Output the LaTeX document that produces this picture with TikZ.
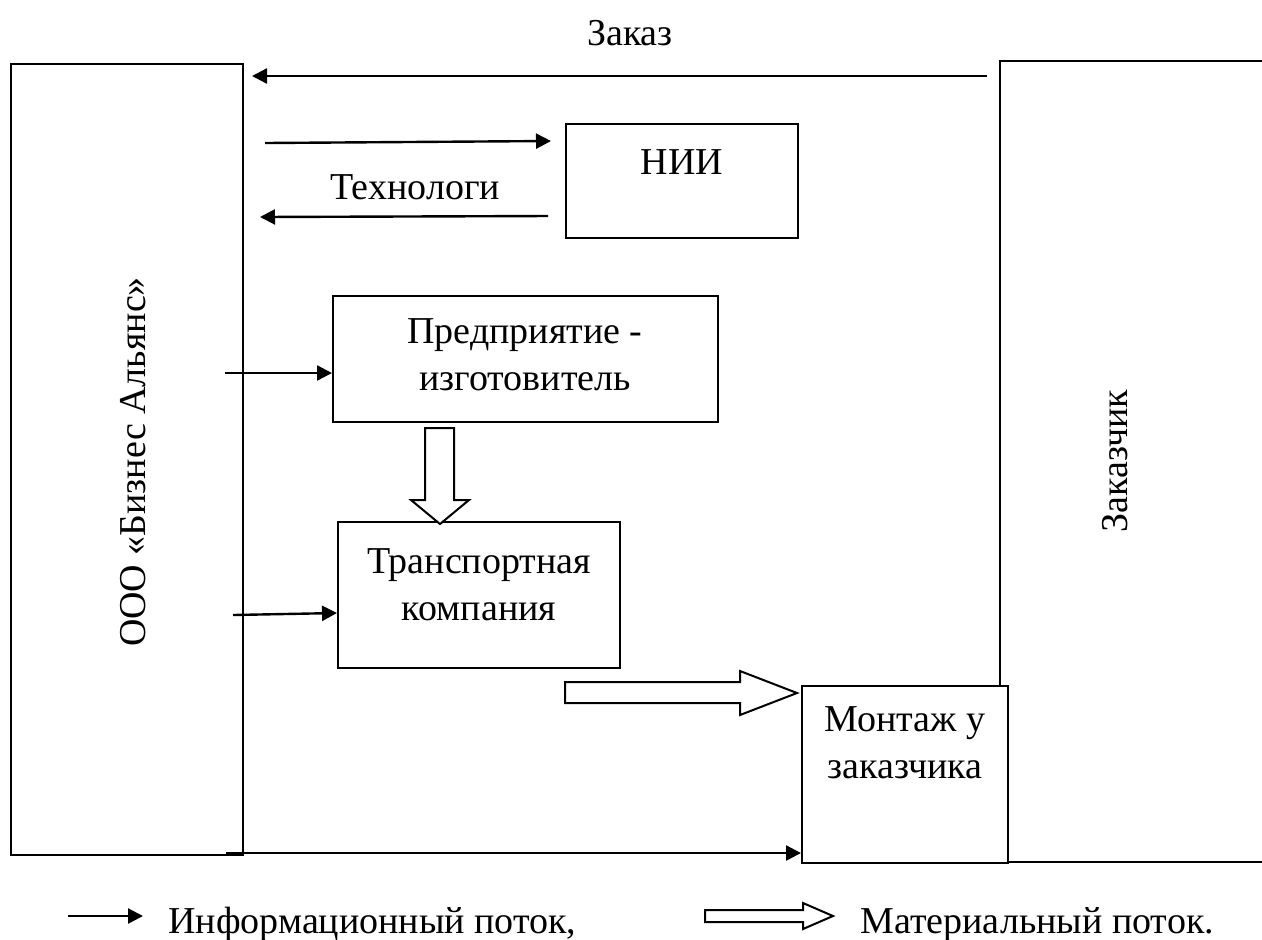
\documentclass[tikz,border=0pt]{standalone}
\usepackage{fontspec}
\setmainfont{Liberation Serif}
\usetikzlibrary{arrows.meta}
\tikzset{
  box/.style={draw, line width=1pt, fill=white, inner sep=0pt},
  lbl/.style={inner sep=0pt, align=center, font=\fontsize{19}{23.5}\selectfont},
  info/.style={line width=1.2pt, -{Triangle[length=7.5pt,width=7.5pt]}},
  hollow/.style={draw, line width=1pt, fill=white, line join=miter}
}
\begin{document}
\begin{tikzpicture}[x=0.5pt,y=-0.5pt]
\useasboundingbox (0,0) rectangle (1262,939);
% right box (open to the right edge)
\draw[line width=1pt] (1275,61) -- (1000,61) -- (1000,862) -- (1275,862);
\node[lbl, rotate=90] (zakazchik) at (1115,461) {Заказчик};
% left box
\node[box, minimum width=116pt, minimum height=395.5pt] (ooo) at (127,459.5) {};
\node[lbl, rotate=90] (oootext) at (133,462) {ООО «Бизнес Альянс»};
% boxes
\node[box, minimum width=116pt, minimum height=57pt] (nii) at (682,181) {};
\node[lbl] (niit) at (682,162) {НИИ};
\node[box, minimum width=192.5pt, minimum height=63pt] (pred) at (525.5,359) {};
\node[lbl] (predt) at (525,355) {Предприятие -\\изготовитель};
\node[box, minimum width=141pt, minimum height=73pt] (trans) at (479,595) {};
\node[lbl] (transt) at (479,585) {Транспортная\\компания};
\node[box, minimum width=103pt, minimum height=88.5pt] (mont) at (905,774.5) {};
\node[lbl] (montt) at (905,743) {Монтаж у\\заказчика};
% labels
\node[lbl] (zakaz) at (630,33) {Заказ};
\node[lbl] (tech) at (415,187) {Технологи};
% free ends
\coordinate (a1) at (987,76);
\coordinate (a1e) at (252,76);
\coordinate (a2) at (265,143);
\coordinate (a2e) at (551,141);
\coordinate (a3) at (548,216);
\coordinate (a3e) at (260,217);
\coordinate (a4) at (225,373);
\coordinate (a5) at (233,615);
\coordinate (a6) at (226,853);
% information arrows
\draw[info] (a1) -- (a1e);
\draw[info] (a2) -- (a2e);
\draw[info] (a3) -- (a3e);
\draw[info] (a4) -- (pred.west |- a4);
\draw[info] (a5) -- (trans.west |- 0,613);
\draw[info] (a6) -- (mont.west |- a6);
% material arrows
\draw[hollow] (425,428) -- (454,428) -- (454,500) -- (469,500) -- (440,524) -- (411,500) -- (425,500) -- cycle;
\draw[hollow] (565,682) -- (740,682) -- (740,671) -- (797,693) -- (740,715) -- (740,703) -- (565,703) -- cycle;
% legend
\coordinate (l1) at (68,916);
\coordinate (l1e) at (143,916);
\draw[info] (l1) -- (l1e);
\node[lbl, anchor=base west] (leginfo) at (168,933) {Информационный поток,};
\draw[hollow] (705,910) -- (803,910) -- (803,903) -- (833,916) -- (803,929) -- (803,922) -- (705,922) -- cycle;
\node[lbl, anchor=base west] (legmat) at (860,933) {Материальный поток.};
\end{tikzpicture}
\end{document}
